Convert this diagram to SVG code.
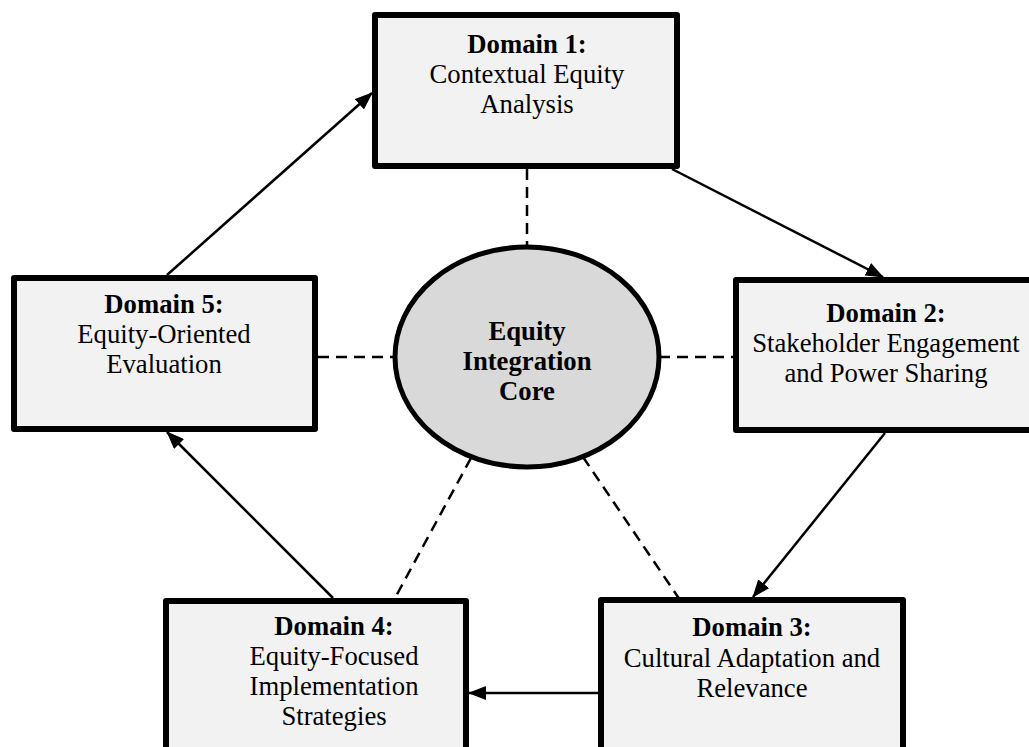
<svg xmlns="http://www.w3.org/2000/svg" width="1029" height="747" viewBox="0 0 1029 747">
<style>
.box{fill:#f2f2f2;stroke:#000;stroke-width:6;stroke-linejoin:round}
.core{fill:#d9d9d9;stroke:#000;stroke-width:5}
.t{font-family:"Liberation Serif","Times New Roman",serif;font-size:26.7px;fill:#000;text-anchor:middle}
.b{font-weight:bold}
.arr{stroke:#000;stroke-width:2.5;fill:none;marker-end:url(#ah)}
.dash{stroke:#000;stroke-width:2.5;fill:none;stroke-dasharray:11 7}
</style>
<defs>
<marker id="ah" markerUnits="userSpaceOnUse" markerWidth="18" markerHeight="14" refX="17" refY="7" orient="auto">
<path d="M0,0 L18,7 L0,14 z" fill="#000"/>
</marker>
</defs>
<rect width="1029" height="747" fill="#fff"/>
<g id="connectors">
<line class="dash" x1="527" y1="169" x2="527" y2="247"/>
<line class="dash" x1="318" y1="357" x2="395" y2="357"/>
<line class="dash" x1="659" y1="357" x2="733" y2="357"/>
<line class="dash" x1="471" y1="458" x2="395" y2="598"/>
<line class="dash" x1="583" y1="457" x2="680" y2="600"/>
<line class="arr" x1="167" y1="275" x2="372" y2="93"/>
<line class="arr" x1="672" y1="169" x2="883" y2="277"/>
<line class="arr" x1="885" y1="433" x2="753" y2="597"/>
<line class="arr" x1="598" y1="693" x2="469" y2="693"/>
<line class="arr" x1="333" y1="598" x2="167" y2="432"/>
</g>
<g id="domain1">
<rect class="box" x="375" y="15" width="302" height="151"/>
<text class="t b" x="527" y="53">Domain 1:</text>
<text class="t" x="527" y="83">Contextual Equity</text>
<text class="t" x="527" y="113">Analysis</text>
</g>
<g id="domain2">
<rect class="box" x="736" y="280" width="302" height="150"/>
<text class="t b" x="886" y="322">Domain 2:</text>
<text class="t" x="886" y="352">Stakeholder Engagement</text>
<text class="t" x="886" y="382">and Power Sharing</text>
</g>
<g id="domain3">
<rect class="box" x="601" y="600" width="302" height="151"/>
<text class="t b" x="752" y="636">Domain 3:</text>
<text class="t" x="752" y="667">Cultural Adaptation and</text>
<text class="t" x="752" y="697">Relevance</text>
</g>
<g id="domain4">
<rect class="box" x="166" y="601" width="300" height="151"/>
<text class="t b" x="334" y="635">Domain 4:</text>
<text class="t" x="334" y="665">Equity-Focused</text>
<text class="t" x="334" y="695">Implementation</text>
<text class="t" x="334" y="725">Strategies</text>
</g>
<g id="domain5">
<rect class="box" x="14" y="278" width="301" height="151"/>
<text class="t b" x="164" y="313">Domain 5:</text>
<text class="t" x="164" y="343">Equity-Oriented</text>
<text class="t" x="164" y="373">Evaluation</text>
</g>
<g id="core">
<ellipse class="core" cx="527" cy="357" rx="132" ry="110"/>
<text class="t b" x="527" y="340">Equity</text>
<text class="t b" x="527" y="370">Integration</text>
<text class="t b" x="527" y="400">Core</text>
</g>
</svg>
